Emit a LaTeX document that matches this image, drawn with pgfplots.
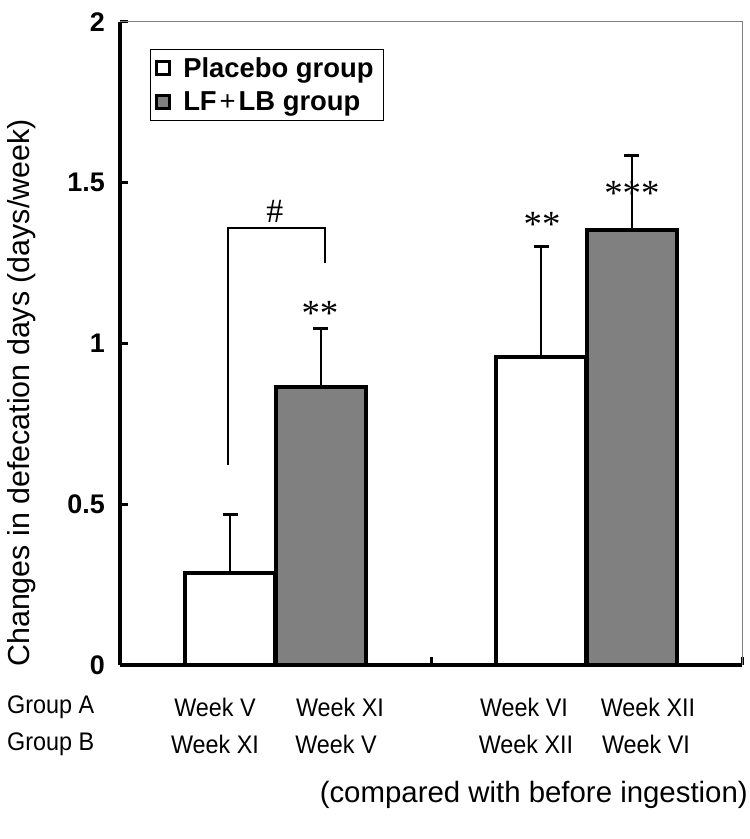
\documentclass[border=0pt]{standalone}
\usepackage{fontspec}
\setmainfont{Liberation Sans}
\newfontfamily\seriffont{Liberation Serif}
\newfontfamily\narrowfont{Liberation Sans}[FakeStretch=0.92]
\usepackage{pgfplots}
\pgfplotsset{compat=1.18}
\definecolor{bargray}{HTML}{808080}
\begin{document}
\begin{tikzpicture}
\begin{axis}[
  scale only axis,
  width=622bp, height=643bp,
  xmin=0, xmax=2, ymin=0, ymax=2,
  clip=false,
  axis x line*=bottom, axis y line*=left,
  axis line style={line width=3.5bp, black, -},
  ytick={0,0.5,1,1.5,2}, yticklabels={0,0.5,1,1.5,2},
  xtick={1,2}, xticklabels={},
  tick align=inside,
  major tick length=8bp,
  tick style={line width=3bp, black},
  yticklabel style={font=\fontsize{27}{27}\selectfont\bfseries, inner sep=0pt, xshift=-15bp},
  legend cell align=left,
  legend style={at={(axis description cs:0.048,0.958)}, anchor=north west,
    draw=black, line width=0.8bp, font=\fontsize{27.5}{30}\selectfont\bfseries,
    inner xsep=4bp, inner ysep=6bp, row sep=9bp,
    nodes={inner sep=2bp, inner xsep=6bp}},
]
\coordinate (O) at (rel axis cs:0,0);
\draw[gray, line width=1bp] (rel axis cs:0,1) -- (rel axis cs:1,1) -- (rel axis cs:1,0);

\addlegendimage{legend image code/.code={\draw[fill=white, draw=black, line width=3.5bp] (2bp,-6.5bp) rectangle (15bp,6.5bp); \path[draw=none, fill=none] (0bp,-0.1bp) rectangle (23bp,0.1bp);}}
\addlegendentry{Placebo group}
\addlegendimage{legend image code/.code={\draw[fill=bargray, draw=black, line width=3.5bp] (2bp,-6.5bp) rectangle (15bp,6.5bp); \path[draw=none, fill=none] (0bp,-0.1bp) rectangle (23bp,0.1bp);}}
\addlegendentry{LF{\mdseries\hspace{3bp}+\hspace{3bp}}LB group}

\addplot[forget plot, ybar, bar width=0.289, bar shift=0pt, fill=white, draw=black, line width=4bp,
  error bars/.cd, y dir=plus, y explicit,
  error bar style={line width=2bp, black},
  error mark options={rotate=90, line width=3bp, mark size=7.5bp, black}]
  coordinates {(0.355,0.286) +- (0,0.181) (1.355,0.958) +- (0,0.345)};
\addplot[forget plot, ybar, bar width=0.289, bar shift=0pt, fill=bargray, draw=black, line width=4bp,
  error bars/.cd, y dir=plus, y explicit,
  error bar style={line width=2bp, black},
  error mark options={rotate=90, line width=3bp, mark size=7.5bp, black}]
  coordinates {(0.645,0.865) +- (0,0.183) (1.645,1.353) +- (0,0.233)};

\draw[line width=1.8bp] (axis cs:0.347,0.622) -- (axis cs:0.347,1.359) -- (axis cs:0.659,1.359) -- (axis cs:0.659,1.25);
\node[font=\seriffont\fontsize{34}{34}\selectfont, inner sep=0pt] at (axis cs:0.498,1.41) {\#};
\node[font=\seriffont\fontsize{37}{37}\selectfont, inner sep=0pt] at (axis cs:0.643,1.095) {**};
\node[font=\seriffont\fontsize{37}{37}\selectfont, inner sep=0pt] at (axis cs:1.357,1.37) {**};
\node[font=\seriffont\fontsize{37}{37}\selectfont, inner sep=0pt] at (axis cs:1.646,1.468) {***};

\node[rotate=90, font=\fontsize{30.5}{30.5}\selectfont, inner sep=0pt] at (rel axis cs:-0.1576,0.423) {Changes in defecation days (days/week)};

\node[font=\narrowfont\fontsize{25.5}{25.5}\selectfont, inner sep=0pt, anchor=west] at (rel axis cs:-0.1817,-0.066) {Group A};
\node[font=\narrowfont\fontsize{25.5}{25.5}\selectfont, inner sep=0pt, anchor=west] at (rel axis cs:-0.1817,-0.1235) {Group B};
\node[font=\narrowfont\fontsize{25.5}{25.5}\selectfont, inner sep=0pt] at (rel axis cs:0.1527,-0.066) {Week V};
\node[font=\narrowfont\fontsize{25.5}{25.5}\selectfont, inner sep=0pt] at (rel axis cs:0.3537,-0.066) {Week XI};
\node[font=\narrowfont\fontsize{25.5}{25.5}\selectfont, inner sep=0pt] at (rel axis cs:0.6495,-0.066) {Week VI};
\node[font=\narrowfont\fontsize{25.5}{25.5}\selectfont, inner sep=0pt] at (rel axis cs:0.8489,-0.066) {Week XII};
\node[font=\narrowfont\fontsize{25.5}{25.5}\selectfont, inner sep=0pt] at (rel axis cs:0.1527,-0.1235) {Week XI};
\node[font=\narrowfont\fontsize{25.5}{25.5}\selectfont, inner sep=0pt] at (rel axis cs:0.3473,-0.1235) {Week V};
\node[font=\narrowfont\fontsize{25.5}{25.5}\selectfont, inner sep=0pt] at (rel axis cs:0.6527,-0.1235) {Week XII};
\node[font=\narrowfont\fontsize{25.5}{25.5}\selectfont, inner sep=0pt] at (rel axis cs:0.8457,-0.1235) {Week VI};
\node[font=\fontsize{29.5}{29.5}\selectfont, inner sep=0pt, anchor=east] at (rel axis cs:1.0096,-0.2022) {(compared with before ingestion)};
\end{axis}
\pgfresetboundingbox
\path ([shift={(-120bp,-174bp)}]O) rectangle ++(750bp,839bp);
\end{tikzpicture}
\end{document}
